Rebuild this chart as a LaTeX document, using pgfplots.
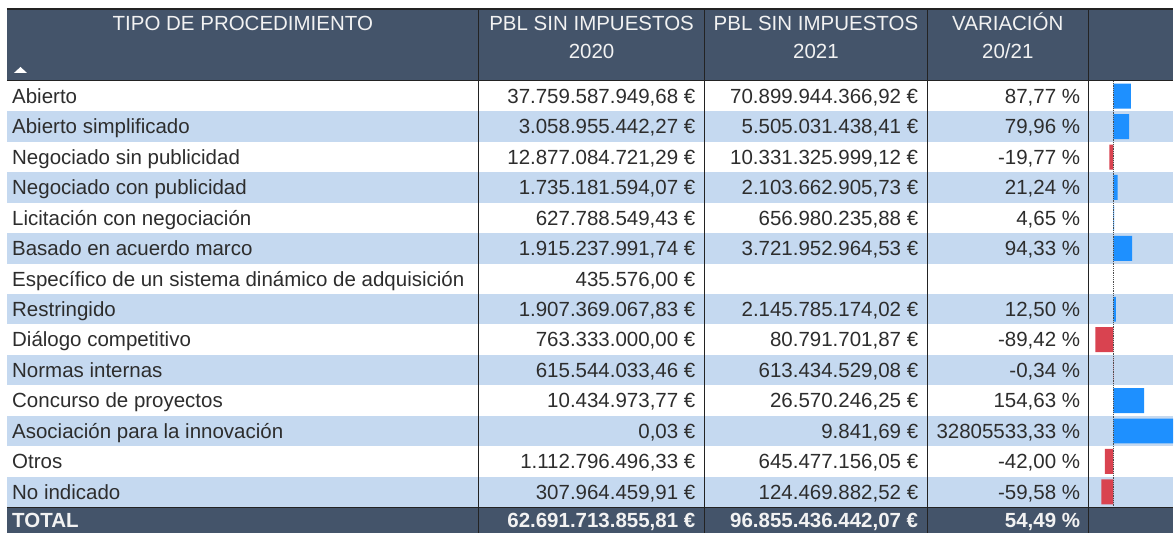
\documentclass[border=0pt]{standalone}
\usepackage{fontspec}
\setmainfont{Liberation Sans}
\usepackage{pgfplots}
\pgfplotsset{compat=1.18}
\usepackage{pgfplotstable}

\definecolor{hdr}{RGB}{68,84,106}
\definecolor{stripe}{RGB}{197,217,240}
\definecolor{txt}{RGB}{45,45,45}
\definecolor{hdrtxt}{RGB}{242,242,242}
\definecolor{barpos}{RGB}{30,144,255}
\definecolor{barneg}{RGB}{217,67,80}
\definecolor{grid}{RGB}{35,35,35}

% Variación 20/21 (%) per row index; the Asociación bar (32805533,33 %) is clipped at the column edge
\pgfplotstableread{
row var
0 87.77
1 79.96
3 21.24
4 4.65
5 94.33
7 12.50
10 154.63
11 300
}\postable
\pgfplotstableread{
row var
2 -19.77
8 -89.42
9 -0.34
12 -42.00
13 -59.58
}\negtable

\newcommand\tf{\fontsize{20.5}{23}\selectfont}
\tikzset{
  lab/.style={anchor=base west,inner sep=0pt,text=txt,font=\tf},
  num/.style={anchor=base east,inner sep=0pt,text=txt,font=\tf},
  hd/.style={anchor=base,inner sep=0pt,text=hdrtxt,font=\tf},
  tot/.style={inner sep=0pt,text=hdrtxt,font=\tf\bfseries},
}
% #1 baseline y, #2 label, #3 2020, #4 2021, #5 variation
\newcommand\trow[5]{%
  \node[lab] at (axis cs:12,#1) {#2};
  \node[num] at (axis cs:696,#1) {#3};
  \node[num] at (axis cs:919,#1) {#4};
  \node[num] at (axis cs:1081,#1) {#5};
}

\begin{document}
\begin{tikzpicture}
\begin{axis}[name=lay,
  scale only axis, width=1174pt, height=533pt,
  xmin=0, xmax=1174, ymin=0, ymax=533, y dir=reverse,
  hide axis, clip=false]
  % background
  \fill[white] (axis cs:0,0) rectangle (axis cs:1174,533);
  % header
  \fill[hdr] (axis cs:7,9) rectangle (axis cs:1174,80.5);
  \fill[hdr] (axis cs:7,507.5) rectangle (axis cs:1174,533);
  % stripes
  \fill[stripe] (axis cs:7,111.46) rectangle (axis cs:1174,141.92);
  \fill[stripe] (axis cs:7,172.38) rectangle (axis cs:1174,202.84);
  \fill[stripe] (axis cs:7,233.30) rectangle (axis cs:1174,263.76);
  \fill[stripe] (axis cs:7,294.22) rectangle (axis cs:1174,324.68);
  \fill[stripe] (axis cs:7,355.14) rectangle (axis cs:1174,385.60);
  \fill[stripe] (axis cs:7,416.06) rectangle (axis cs:1174,446.52);
  \fill[stripe] (axis cs:7,476.98) rectangle (axis cs:1174,507.44);
  % borders
  \draw[grid,line width=1.6pt] (axis cs:7,9) -- (axis cs:1174,9);
  \draw[grid,line width=1.4pt] (axis cs:7,80.5) -- (axis cs:1174,80.5);
  \draw[grid,line width=1.2pt] (axis cs:7,507.5) -- (axis cs:1174,507.5);
  \draw[grid,line width=1pt] (axis cs:479,9) -- (axis cs:479,533);
  \draw[grid,line width=1pt] (axis cs:705,9) -- (axis cs:705,533);
  \draw[grid,line width=1pt] (axis cs:928,9) -- (axis cs:928,533);
  \draw[grid,line width=1pt] (axis cs:1089,9) -- (axis cs:1089,533);
  % sort triangle
  \fill[white] (axis cs:14,73) -- (axis cs:27,73) -- (axis cs:20.5,67) -- cycle;
  % header text
  \node[hd] at (axis cs:243,31) {TIPO DE PROCEDIMIENTO};
  \node[hd] at (axis cs:592,31) {PBL SIN IMPUESTOS};
  \node[hd] at (axis cs:592,58.5) {2020};
  \node[hd] at (axis cs:816.5,31) {PBL SIN IMPUESTOS};
  \node[hd] at (axis cs:816.5,58.5) {2021};
  \node[hd] at (axis cs:1008.5,31) {VARIACIÓN};
  \node[hd] at (axis cs:1008.5,58.5) {20/21};
  % body
  \trow{103.5}{Abierto}{37.759.587.949,68 €}{70.899.944.366,92 €}{87,77 \%}
  \trow{134.0}{Abierto simplificado}{3.058.955.442,27 €}{5.505.031.438,41 €}{79,96 \%}
  \trow{164.4}{Negociado sin publicidad}{12.877.084.721,29 €}{10.331.325.999,12 €}{-19,77 \%}
  \trow{194.9}{Negociado con publicidad}{1.735.181.594,07 €}{2.103.662.905,73 €}{21,24 \%}
  \trow{225.3}{Licitación con negociación}{627.788.549,43 €}{656.980.235,88 €}{4,65 \%}
  \trow{255.8}{Basado en acuerdo marco}{1.915.237.991,74 €}{3.721.952.964,53 €}{94,33 \%}
  \trow{286.3}{Específico de un sistema dinámico de adquisición}{435.576,00 €}{}{}
  \trow{316.7}{Restringido}{1.907.369.067,83 €}{2.145.785.174,02 €}{12,50 \%}
  \trow{347.2}{Diálogo competitivo}{763.333.000,00 €}{80.791.701,87 €}{-89,42 \%}
  \trow{377.6}{Normas internas}{615.544.033,46 €}{613.434.529,08 €}{-0,34 \%}
  \trow{408.1}{Concurso de proyectos}{10.434.973,77 €}{26.570.246,25 €}{154,63 \%}
  \trow{438.6}{Asociación para la innovación}{0,03 €}{9.841,69 €}{32805533,33 \%}
  \trow{469.0}{Otros}{1.112.796.496,33 €}{645.477.156,05 €}{-42,00 \%}
  \trow{499.5}{No indicado}{307.964.459,91 €}{124.469.882,52 €}{-59,58 \%}
  % total
  \node[tot,anchor=base west] at (axis cs:12,528) {TOTAL};
  \node[tot,anchor=base east] at (axis cs:696,528) {62.691.713.855,81 €};
  \node[tot,anchor=base east] at (axis cs:919,528) {96.855.436.442,07 €};
  \node[tot,anchor=base east] at (axis cs:1081,528) {54,49 \%};
  \coordinate (bartl) at (axis cs:1089,81);
\end{axis}
\begin{axis}[at={(bartl)}, anchor=north west,
  scale only axis, width=85pt, height=426.44pt,
  xmin=-125, xmax=300, ymin=-0.5, ymax=13.5, y dir=reverse,
  hide axis, xbar, bar width=25pt, clip=true]
  \addplot[draw=none, fill=barpos, bar shift=0pt] table[x=var,y=row]{\postable};
  \addplot[draw=none, fill=barneg, bar shift=0pt] table[x=var,y=row]{\negtable};
  \draw[densely dotted, gray!60!black, line width=0.8pt] (axis cs:0,-0.5) -- (axis cs:0,13.5);
\end{axis}
\end{tikzpicture}
\end{document}
